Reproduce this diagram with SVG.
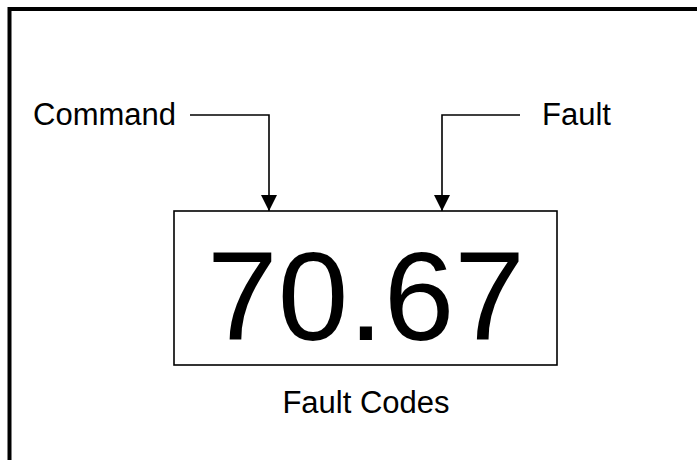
<svg xmlns="http://www.w3.org/2000/svg" width="697" height="460" viewBox="0 0 697 460">
<style>
text{font-family:"Liberation Sans",Arial,sans-serif;fill:#000}
.lbl{font-size:31px}
.conn{fill:none;stroke:#000;stroke-width:1.6}
</style>
<defs>
<marker id="arr" viewBox="0 0 16 16" refX="16" refY="8" markerWidth="16" markerHeight="16" markerUnits="userSpaceOnUse" orient="auto">
<path d="M0,0 L16,8 L0,16 Z" fill="#000"/>
</marker>
</defs>
<rect width="697" height="460" fill="#fff"/>
<rect id="frame" x="9.5" y="9" width="700" height="470" fill="none" stroke="#000" stroke-width="4"/>
<g id="display">
<rect x="174" y="211" width="383" height="154" fill="none" stroke="#000" stroke-width="1.6"/>
<text x="366" y="340" text-anchor="middle" font-size="127">70.67</text>
</g>
<g id="caption"><text class="lbl" x="366" y="413" text-anchor="middle">Fault Codes</text></g>
<g id="command"><text class="lbl" x="33" y="125">Command</text></g>
<g id="fault"><text class="lbl" x="542" y="125">Fault</text></g>
<g id="connectors">
<path class="conn" d="M190,115 H269 V211" marker-end="url(#arr)"/>
<path class="conn" d="M520,115 H442 V211" marker-end="url(#arr)"/>
</g>
</svg>
